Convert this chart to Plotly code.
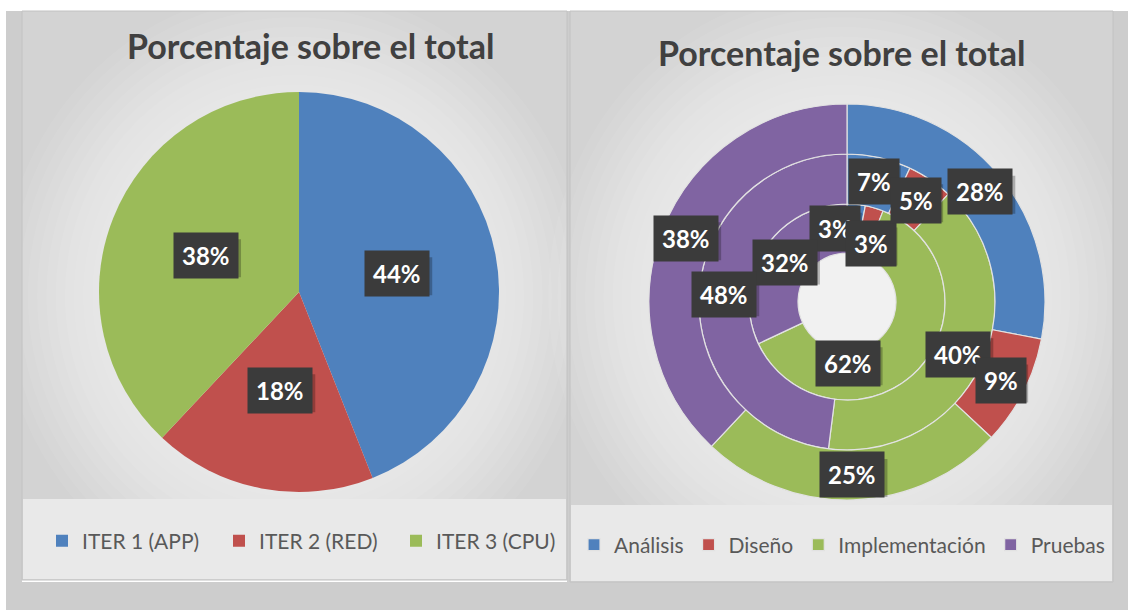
import math
import plotly.graph_objects as go

# ---- data ----
iter_labels = ["ITER 1 (APP)", "ITER 2 (RED)", "ITER 3 (CPU)"]
iter_values = [44, 18, 38]

phase_labels = ["Análisis", "Diseño", "Implementación", "Pruebas"]
ring_inner = [3, 3, 62, 32]
ring_middle = [7, 5, 40, 48]
ring_outer = [28, 9, 25, 38]

title_text = "Porcentaje sobre el total"

iter_colors = ["#4F81BD", "#C0504D", "#9BBB59"]
phase_colors = ["#4F81BD", "#C0504D", "#9BBB59", "#8064A2"]

W, H = 1128, 610


def px(x):
    return x / W


def py(y):
    return 1 - y / H


def dom(cx, cy, r):
    return dict(x=[px(cx - r), px(cx + r)], y=[py(cy + r), py(cy - r)])


def label_spots(values, cx, cy, r):
    # mid angle of each slice, clockwise from 12 o'clock
    total = sum(values)
    out = []
    acc = 0
    for v in values:
        mid = (acc + v / 2) / total * 2 * math.pi
        out.append((cx + r * math.sin(mid), cy - r * math.cos(mid),
                    f"{round(100 * v / total)}%"))
        acc += v
    return out


fig = go.Figure()

# left pie
fig.add_trace(go.Pie(
    labels=iter_labels, values=iter_values, sort=False, direction="clockwise",
    marker=dict(colors=iter_colors, line=dict(width=0)),
    textinfo="none", hoverinfo="label+percent",
    domain=dom(299, 292, 200), legend="legend",
))

# right nested doughnut: inner, middle, outer
rings = [(ring_inner, 98, 49), (ring_middle, 148, 98), (ring_outer, 198, 148)]
for vals, r_out, r_in in rings:
    fig.add_trace(go.Pie(
        labels=phase_labels, values=vals, sort=False, direction="clockwise",
        hole=r_in / r_out,
        marker=dict(colors=phase_colors, line=dict(color="#e2e2e2", width=1.2)),
        textinfo="none", hoverinfo="label+percent",
        domain=dom(847, 302, r_out), legend="legend2",
    ))

# ---- backgrounds ----
shapes = []
panels = [(22, 567, 11, 580, 499), (570, 1113, 11, 582, 505)]
for x0, x1, y0, y1, band in panels:
    shapes.append(dict(type="rect", xref="paper", yref="paper",
                       x0=px(x0), x1=px(x1), y0=py(y1), y1=py(y0),
                       fillcolor="#d3d3d3", line=dict(width=0), layer="below"))
    w, h = x1 - x0, y1 - y0
    n = 26
    for i in range(n):
        f = -0.04 + i * 0.44 / n
        shapes.append(dict(type="circle", xref="paper", yref="paper",
                           x0=px(x0 + w * f), x1=px(x1 - w * f),
                           y0=py(y1 - h * f), y1=py(y0 + h * f),
                           fillcolor="rgba(255,255,255,0.065)",
                           line=dict(width=0), layer="below"))
    shapes.append(dict(type="rect", xref="paper", yref="paper",
                       x0=px(x0 + 1), x1=px(x1 - 1), y0=py(y1 - 1), y1=py(band),
                       fillcolor="#e9e9e9", line=dict(width=0), layer="below"))

# trims so the gradient stays within the panels
for x0, x1, y0, y1 in [(6, 22, 11, 610), (567, 570, 11, 610), (1113, 1128, 11, 610),
                       (6, 1128, 582, 610)]:
    shapes.append(dict(type="rect", xref="paper", yref="paper",
                       x0=px(x0), x1=px(x1), y0=py(y1), y1=py(y0),
                       fillcolor="#cdcdcd", line=dict(width=0), layer="below"))
shapes.append(dict(type="rect", xref="paper", yref="paper", x0=0, x1=1,
                   y0=py(11), y1=1, fillcolor="white", line=dict(width=0), layer="below"))
for x0, x1, y0, y1, band in panels:
    shapes.append(dict(type="rect", xref="paper", yref="paper",
                       x0=px(x0), x1=px(x1), y0=py(y1), y1=py(y0),
                       fillcolor="rgba(0,0,0,0)", line=dict(color="#c2c2c2", width=1),
                       layer="below"))

# ---- titles and data labels ----
title_font = dict(family="Lato", size=34, color="#404040")
annotations = [
    dict(text=f"<b>{title_text}</b>", x=px(310), y=py(46), xref="paper", yref="paper",
         xanchor="center", yanchor="middle", showarrow=False, font=title_font),
    dict(text=f"<b>{title_text}</b>", x=px(841), y=py(52), xref="paper", yref="paper",
         xanchor="center", yanchor="middle", showarrow=False, font=title_font),
]

spots = label_spots(iter_values, 299, 292, 100)
# hand-placed labels in the original doughnut (inner ring)
nudges = {(0, 0): (-19, 0), (0, 1): (3, 12), (0, 2): (-53, 11)}
for k, (vals, r_out, r_in) in enumerate(rings):
    for j, s in enumerate(label_spots(vals, 847, 302, (r_out + r_in) / 2)):
        dx, dy = nudges.get((k, j), (0, 0))
        spots.append((s[0] + dx, s[1] + dy, s[2]))

for x, y, t in spots:
    # soft drop shadow behind each label box
    bw = 32 + 16 * (len(t) - 1)
    shapes.append(dict(type="rect", xref="paper", yref="paper",
                       x0=px(x - bw / 2 + 3), x1=px(x + bw / 2 + 3),
                       y0=py(y + 19 + 3), y1=py(y - 19 + 3),
                       fillcolor="rgba(0,0,0,0.25)", line=dict(width=0), layer="above"))
    annotations.append(dict(
        text=f"<b>{t}</b>", x=px(x), y=py(y), xref="paper", yref="paper",
        xanchor="center", yanchor="middle",
        showarrow=False, borderpad=8, bgcolor="#3b3b3b",
        font=dict(family="Lato", size=24, color="white"),
    ))

legend_style = dict(orientation="h", yanchor="middle", xanchor="left",
                    bgcolor="rgba(0,0,0,0)",
                    font=dict(family="Lato", size=21, color="#595959"))

fig.update_layout(
    width=W, height=H, margin=dict(l=0, r=0, t=0, b=0),
    paper_bgcolor="white", plot_bgcolor="white",
    shapes=shapes, annotations=annotations,
    legend=dict(legend_style, x=px(42), y=py(541), entrywidth=132),
    legend2=dict(legend_style, x=px(574), y=py(545)),
)

fig.write_html("out.html", config={"displayModeBar": False},
               post_script="document.body.style.margin='0';"
                           "document.body.style.overflow='hidden';")
